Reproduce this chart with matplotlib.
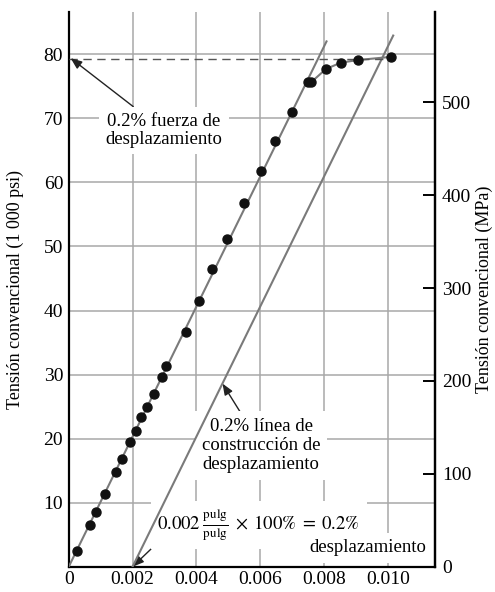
import matplotlib
matplotlib.use("Agg")
import matplotlib.pyplot as plt
import numpy as np

# ---- data ----
strain = [0.00025, 0.00067, 0.00085, 0.00114, 0.00148, 0.00168, 0.00193, 0.00211,
          0.00227, 0.00246, 0.00268, 0.00292, 0.00305, 0.00367, 0.00409, 0.00450,
          0.00497, 0.00550, 0.00602, 0.00648, 0.00699, 0.00749, 0.00759, 0.00806,
          0.00853, 0.00906, 0.01010]
stress_ksi = [2.5, 6.6, 8.6, 11.3, 14.75, 16.9, 19.5, 21.2,
              23.4, 25.0, 27.0, 29.6, 31.4, 36.7, 41.5, 46.5,
              51.1, 56.8, 61.8, 66.5, 71.0, 75.6, 75.6, 77.7,
              78.7, 79.1, 79.6]
plastic_start = 21            # index where the curved (plastic) portion starts
modulus_ksi = 10150.0         # slope of elastic / offset lines (ksi per unit strain)
elastic_end = 0.00808
offset_strain = 0.002
offset_end = 0.01017
yield_ksi = 79.3
yield_dash_end = 0.0099
ksi_to_mpa = 6.895

x_ticks = [0, 0.002, 0.004, 0.006, 0.008, 0.010]
x_ticklabels = ["0", "0.002", "0.004", "0.006", "0.008", "0.010"]
y_ticks = [10, 20, 30, 40, 50, 60, 70, 80]
mpa_ticks = [0, 100, 200, 300, 400, 500]

plt.rcParams['font.family'] = ['Liberation Serif', 'DejaVu Serif']
plt.rcParams['mathtext.fontset'] = 'stix'
FS_TICK = 14
FS_ANN = 13.5
FS_LAB = 13

fig = plt.figure(figsize=(4.95, 5.92), dpi=100)
ax = fig.add_axes([0.1388, 0.0426, 0.7400, 0.9371])
xmax = 0.01148
ymax = 86.6
ax.set_xlim(0, xmax)
ax.set_ylim(0, ymax)

ax.grid(True, color='#a8a8a8', lw=1.1, zorder=0)
ax.set_axisbelow(True)
ax.set_xticks(x_ticks)
ax.set_xticklabels(x_ticklabels, fontsize=FS_TICK)
ax.set_yticks(y_ticks)
ax.set_yticklabels([str(v) for v in y_ticks], fontsize=FS_TICK)
ax.tick_params(axis='both', length=0)
ax.tick_params(axis='x', pad=3)
ax.tick_params(axis='y', pad=4)
for s in ['left', 'bottom', 'right']:
    ax.spines[s].set_linewidth(1.6)
    ax.spines[s].set_color('black')
ax.spines['top'].set_visible(False)

line_c = '#7a7a7a'
# elastic line
xe = np.array([0, elastic_end])
ax.plot(xe, modulus_ksi * xe, color=line_c, lw=1.5, zorder=3)
# offset line
xo = np.array([offset_strain, offset_end])
ax.plot(xo, modulus_ksi * (xo - offset_strain), color=line_c, lw=1.5, zorder=3)
# plastic curve
ax.plot(strain[plastic_start:], stress_ksi[plastic_start:], color=line_c, lw=1.5, zorder=3)
# dashed yield line
ax.plot([0, yield_dash_end], [yield_ksi, yield_ksi], color='#555555', lw=1.0,
        dashes=(6, 4), zorder=3)
# data points
ax.plot(strain, stress_ksi, 'o', color='#111111', ms=6.5, zorder=4, clip_on=False)

ax.set_ylabel("Tensión convencional (1 000 psi)", fontsize=FS_LAB)
ax.yaxis.set_label_coords(-0.122, 0.5)

# right axis in MPa
ax2 = ax.twinx()
ax2.set_ylim(0, ymax * ksi_to_mpa)
ax2.set_yticks(mpa_ticks)
ax2.set_yticklabels([str(v) for v in mpa_ticks], fontsize=FS_TICK)
ax2.tick_params(axis='y', direction='in', length=9, width=1.4, pad=5)
for s in ['left', 'bottom', 'top']:
    ax2.spines[s].set_visible(False)
ax2.spines['right'].set_linewidth(1.6)
ax2.set_ylabel("Tensión convencional (MPa)", fontsize=FS_LAB)
ax2.yaxis.set_label_coords(1.112, 0.5)

box = dict(boxstyle='square,pad=0.35', fc='white', ec='none')
arrow = dict(arrowstyle='-|>,head_length=0.5,head_width=0.2', color='#222222', lw=1.0,
             shrinkA=0, shrinkB=0)

ax.annotate("0.2% fuerza de\ndesplazamiento", xy=(0.00006, 79.4), xytext=(0.00299, 65.4),
            fontsize=FS_ANN, ha='center', va='bottom', linespacing=1.05, bbox=box,
            arrowprops=arrow, zorder=5)
ax.annotate("0.2% línea de\nconstrucción de\ndesplazamiento", xy=(0.00482, 28.6),
            xytext=(0.00603, 14.6), fontsize=FS_ANN, ha='center', va='bottom',
            linespacing=1.17, bbox=box, arrowprops=arrow, zorder=2)
ax.annotate(r"$0.002\;\frac{\mathrm{pulg}}{\mathrm{pulg}}\;\times\;100\%\;=\;0.2\%$",
            xy=(offset_strain, 0), xytext=(0.00278, 6.5), fontsize=FS_ANN, ha='left',
            va='center', arrowprops=dict(arrowstyle='-|>,head_length=0.5,head_width=0.2',
                                         color='#222222', lw=1.0, shrinkA=0, shrinkB=0,
                                         relpos=(0.0, 0.0)),
            bbox=box, zorder=2)
ax.text(0.01120, 3.0, "desplazamiento", fontsize=FS_ANN, ha='right', va='center',
        bbox=box, zorder=2)

fig.savefig("out.png", dpi=100)
